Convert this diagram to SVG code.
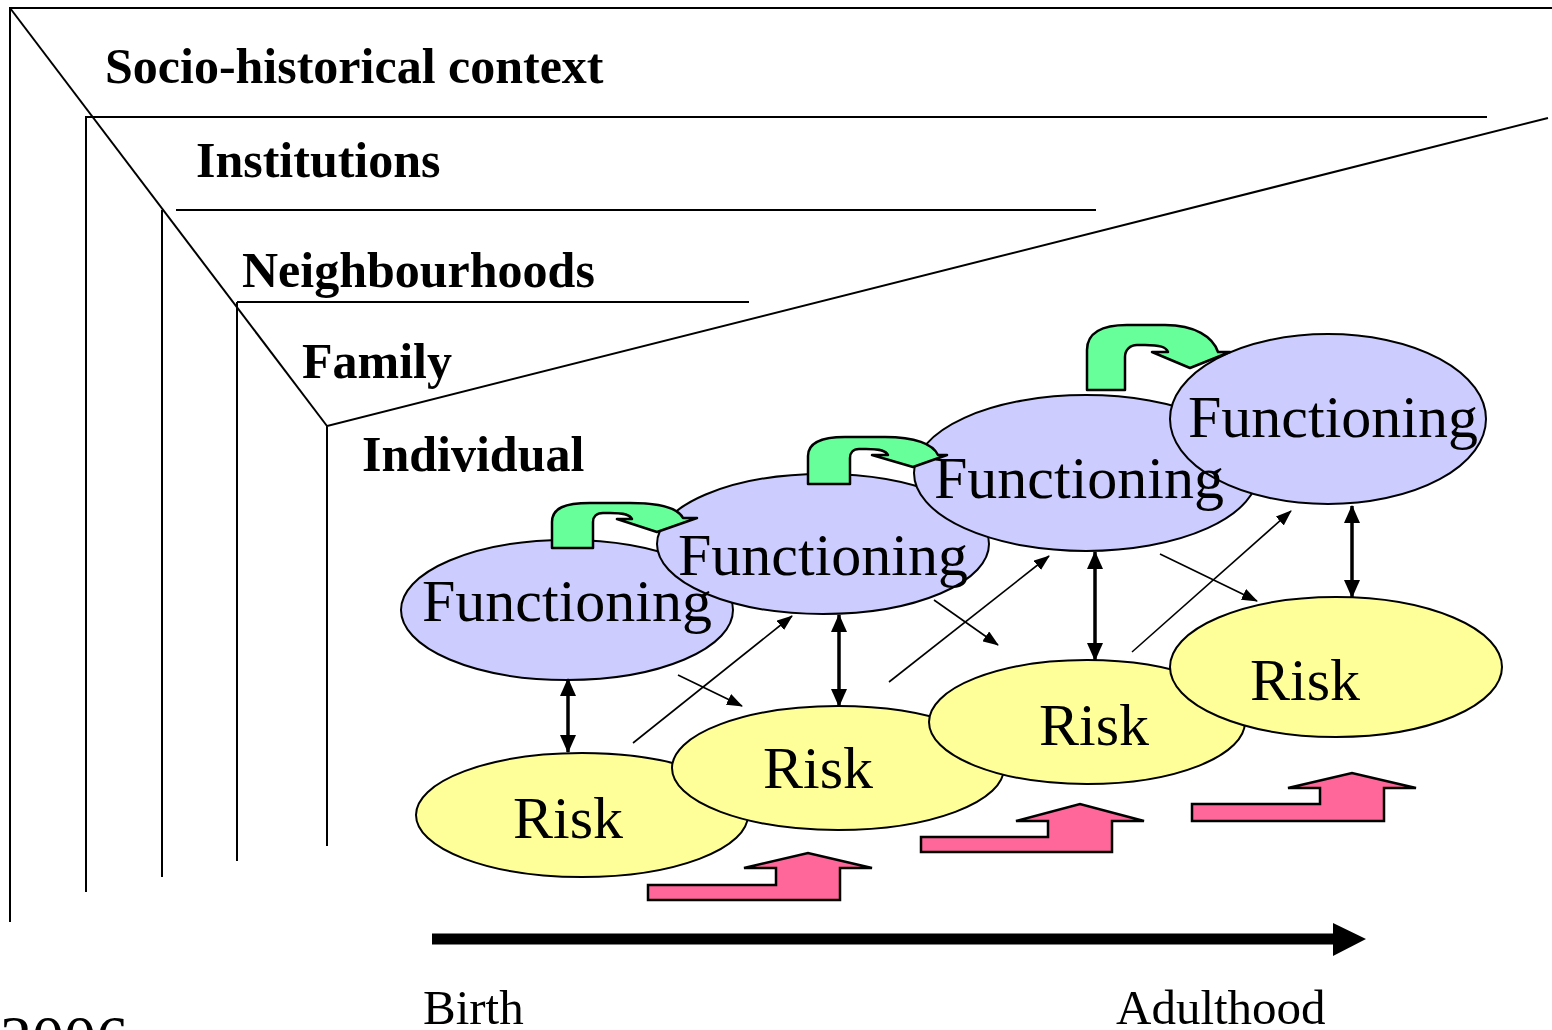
<svg xmlns="http://www.w3.org/2000/svg" width="1552" height="1030" viewBox="0 0 1552 1030">
<style>
.frame{stroke:#000;stroke-width:2;fill:none}
.lbl{font-family:"Liberation Serif","Times New Roman",serif;font-weight:bold;font-size:50px;fill:#000}
.big{font-family:"Liberation Serif","Times New Roman",serif;font-size:60px;fill:#000}
.time{font-family:"Liberation Serif","Times New Roman",serif;font-size:49px;fill:#000}
.func{fill:#CCCCFF;stroke:#000;stroke-width:2}
.risk{fill:#FFFF99;stroke:#000;stroke-width:2}
.green{fill:#66FF99;stroke:#000;stroke-width:2.5;stroke-linejoin:round}
.pink{fill:#FF6699;stroke:#000;stroke-width:2.5;stroke-linejoin:miter}
.thin{stroke:#000;stroke-width:1.6;fill:none;marker-end:url(#ah)}
.dbl{stroke:#000;stroke-width:3.5;fill:none;marker-end:url(#dh);marker-start:url(#dh)}
</style>
<defs>
<marker id="ah" markerUnits="userSpaceOnUse" markerWidth="16" markerHeight="12" refX="15" refY="6" orient="auto"><path d="M0,0 L16,6 L0,12 z" fill="#000"/></marker>
<marker id="dh" markerUnits="userSpaceOnUse" markerWidth="18" markerHeight="16" refX="17" refY="8" orient="auto-start-reverse"><path d="M0,0 L18,8 L0,16 z" fill="#000"/></marker>
</defs>
<rect width="1552" height="1030" fill="#fff"/>
<g id="frames">
<polyline class="frame" points="1552,8 10,8 10,922"/>
<line class="frame" x1="10" y1="8" x2="327" y2="426"/>
<polyline class="frame" points="1487,117 86,117 86,892"/>
<line class="frame" x1="176" y1="210" x2="1096" y2="210"/>
<line class="frame" x1="162" y1="210" x2="162" y2="877"/>
<line class="frame" x1="237" y1="302" x2="749" y2="302"/>
<line class="frame" x1="237" y1="302" x2="237" y2="861"/>
<polyline class="frame" points="1548,118 327,426 327,846"/>
</g>
<g id="labels">
<text class="lbl" x="105" y="83">Socio-historical context</text>
<text class="lbl" x="196" y="177">Institutions</text>
<text class="lbl" x="242" y="287">Neighbourhoods</text>
<text class="lbl" x="302" y="378">Family</text>
<text class="lbl" x="362" y="471">Individual</text>
</g>
<g id="functioning-ellipses">
<ellipse id="f1" class="func" cx="567" cy="610" rx="166" ry="70"/>
<ellipse id="f2" class="func" cx="823" cy="544" rx="166" ry="70"/>
<ellipse id="f3" class="func" cx="1086" cy="473" rx="172" ry="78"/>
<ellipse id="f4" class="func" cx="1328" cy="419" rx="158" ry="85"/>
</g>
<g id="continuity-arrows">
<path id="g1" class="green" d="M552,548 L552,522 C552,508 565,503 590,503 L630,503 C660,503 678,508 683,518 L697,518 L657,532 L617,519 L632,519 C630,515 625,513 610,513 L603,513 C596,513 593,517 593,522 L593,548 Z"/>
<path id="g2" class="green" d="M808,484 L808,456 C808,442 822,437 845,437 L885,437 C915,437 933,444 938,455 L947,455 L913,467 L872,455 L888,455 C886,451 881,449 866,449 L859,449 C853,449 850,453 850,458 L850,484 Z"/>
<path id="g3" class="green" d="M1087,390 L1087,350 C1087,333 1102,325 1127,325 L1165,325 C1195,325 1213,337 1218,352 L1230,352 L1190,368 L1152,352 L1168,352 C1166,347 1160,345 1145,345 L1137,345 C1130,345 1125,350 1125,357 L1125,390 Z"/>
</g>
<g id="risk-ellipses">
<ellipse id="r1" class="risk" cx="582" cy="815" rx="166" ry="62"/>
<ellipse id="r2" class="risk" cx="838" cy="768" rx="166" ry="62"/>
<ellipse id="r3" class="risk" cx="1087" cy="722" rx="158" ry="62"/>
<ellipse id="r4" class="risk" cx="1336" cy="667" rx="166" ry="70"/>
</g>
<g id="node-texts">
<text class="big" x="422" y="621">Functioning</text>
<text class="big" x="678" y="575">Functioning</text>
<text class="big" x="934" y="498">Functioning</text>
<text class="big" x="1188" y="437">Functioning</text>
<text class="big" x="513" y="838">Risk</text>
<text class="big" x="763" y="788">Risk</text>
<text class="big" x="1039" y="745">Risk</text>
<text class="big" x="1250" y="700">Risk</text>
</g>
<g id="influences">
<polygon id="p1" class="pink" points="648,900 648,885 776,885 776,868 744,868 808,853 872,868 840,868 840,900"/>
<polygon id="p2" class="pink" points="921,852 921,837 1048,837 1048,821 1016,821 1080,804 1144,821 1112,821 1112,852"/>
<polygon id="p3" class="pink" points="1192,821 1192,804 1320,804 1320,788 1288,788 1352,773 1416,788 1384,788 1384,821"/>
</g>
<g id="connectors">
<line class="dbl" x1="568" y1="679" x2="568" y2="752"/>
<line class="dbl" x1="839" y1="615" x2="839" y2="706"/>
<line class="dbl" x1="1095" y1="552" x2="1095" y2="660"/>
<line class="dbl" x1="1352" y1="506" x2="1352" y2="597"/>
<line class="thin" x1="633" y1="743" x2="792" y2="616"/>
<line class="thin" x1="889" y1="682" x2="1049" y2="556"/>
<line class="thin" x1="1132" y1="652" x2="1291" y2="511"/>
<line class="thin" x1="678" y1="675" x2="742" y2="706"/>
<line class="thin" x1="934" y1="600" x2="998" y2="645"/>
<line class="thin" x1="1160" y1="554" x2="1257" y2="601"/>
</g>
<g id="timeline">
<line x1="432" y1="939" x2="1336" y2="939" stroke="#000" stroke-width="11"/>
<polygon points="1333,923 1366,939 1333,956" fill="#000"/>
<text class="time" x="423" y="1024">Birth</text>
<text class="time" x="1116" y="1024">Adulthood</text>
<text class="big" x="0" y="1060" style="font-size:64px">2006</text>
</g>
</svg>
